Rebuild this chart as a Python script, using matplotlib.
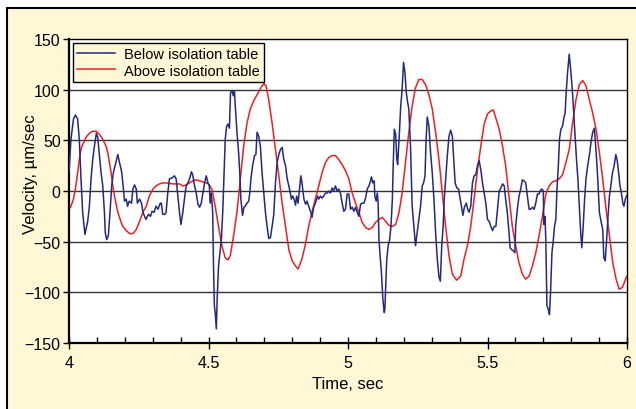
import matplotlib
matplotlib.use("Agg")
import matplotlib.pyplot as plt
from matplotlib.patches import Rectangle
from matplotlib.ticker import MultipleLocator

plt.rcParams['font.family'] = ['Liberation Sans', 'DejaVu Sans']

# time (sec), velocity (um/sec)
below_t = [4.000, 4.007, 4.016, 4.023, 4.031, 4.037, 4.043, 4.049, 4.057, 4.067,
           4.073, 4.079, 4.085, 4.091, 4.098, 4.103, 4.109, 4.115, 4.121, 4.127,
           4.130, 4.135, 4.141, 4.147, 4.153, 4.159, 4.166, 4.175, 4.181, 4.188,
           4.193, 4.199, 4.205, 4.210, 4.216, 4.224, 4.229, 4.235, 4.241, 4.245,
           4.253, 4.260, 4.265, 4.271, 4.276, 4.285, 4.292, 4.298, 4.305, 4.312,
           4.319, 4.327, 4.331, 4.336, 4.344, 4.348, 4.354, 4.360, 4.370, 4.378,
           4.384, 4.390, 4.396, 4.401, 4.408, 4.415, 4.420, 4.426, 4.432, 4.439,
           4.444, 4.450, 4.456, 4.462, 4.468, 4.474, 4.480, 4.486, 4.492, 4.498,
           4.503, 4.506, 4.510, 4.515, 4.518, 4.521, 4.524, 4.528, 4.531, 4.536,
           4.541, 4.546, 4.551, 4.555, 4.560, 4.565, 4.570, 4.575, 4.579, 4.584,
           4.589, 4.593, 4.596, 4.602, 4.608, 4.612, 4.616, 4.622, 4.627, 4.632,
           4.638, 4.644, 4.648, 4.652, 4.658, 4.665, 4.670, 4.674, 4.680, 4.686,
           4.692, 4.698, 4.704, 4.710, 4.716, 4.722, 4.728, 4.734, 4.740, 4.746,
           4.752, 4.758, 4.764, 4.770, 4.776, 4.782, 4.788, 4.794, 4.797, 4.802,
           4.807, 4.812, 4.816, 4.821, 4.826, 4.831, 4.835, 4.842, 4.848, 4.853,
           4.859, 4.867, 4.871, 4.877, 4.883, 4.891, 4.895, 4.901, 4.907, 4.913,
           4.919, 4.926, 4.931, 4.937, 4.943, 4.949, 4.955, 4.961, 4.967, 4.973,
           4.979, 4.985, 4.991, 4.997, 5.003, 5.009, 5.015, 5.021, 5.027, 5.033,
           5.039, 5.045, 5.051, 5.057, 5.063, 5.069, 5.075, 5.081, 5.084, 5.089,
           5.094, 5.096, 5.101, 5.105, 5.108, 5.111, 5.115, 5.120, 5.125, 5.130,
           5.132, 5.136, 5.139, 5.144, 5.149, 5.154, 5.159, 5.162, 5.166, 5.171,
           5.175, 5.178, 5.183, 5.189, 5.194, 5.199, 5.204, 5.209, 5.214, 5.218,
           5.224, 5.230, 5.236, 5.242, 5.248, 5.254, 5.260, 5.266, 5.271, 5.276,
           5.280, 5.284, 5.290, 5.296, 5.302, 5.308, 5.314, 5.320, 5.326, 5.331,
           5.336, 5.341, 5.345, 5.350, 5.356, 5.362, 5.368, 5.374, 5.379, 5.384,
           5.390, 5.396, 5.402, 5.408, 5.412, 5.417, 5.424, 5.429, 5.434, 5.440,
           5.446, 5.452, 5.458, 5.464, 5.470, 5.476, 5.482, 5.488, 5.494, 5.500,
           5.506, 5.512, 5.518, 5.524, 5.530, 5.536, 5.542, 5.548, 5.554, 5.560,
           5.565, 5.571, 5.577, 5.581, 5.587, 5.593, 5.598, 5.601, 5.607, 5.613,
           5.619, 5.625, 5.631, 5.637, 5.643, 5.649, 5.655, 5.661, 5.667, 5.673,
           5.679, 5.685, 5.688, 5.695, 5.700, 5.702, 5.706, 5.709, 5.713, 5.718,
           5.722, 5.726, 5.731, 5.736, 5.740, 5.745, 5.749, 5.754, 5.758, 5.763,
           5.769, 5.775, 5.778, 5.782, 5.787, 5.793, 5.799, 5.804, 5.809, 5.815,
           5.819, 5.824, 5.829, 5.834, 5.838, 5.843, 5.848, 5.853, 5.859, 5.865,
           5.871, 5.877, 5.883, 5.886, 5.891, 5.896, 5.901, 5.907, 5.913, 5.917,
           5.922, 5.927, 5.932, 5.937, 5.942, 5.948, 5.954, 5.960, 5.965, 5.970,
           5.975, 5.980, 5.985, 5.989, 5.994, 6.000]
below_v = [18, 51, 71, 75, 71, 51, 12, -21, -43, -30,
           -15, 12, 31, 44, 57, 53, 35, 18, 5, -21,
           -41, -48, -44, -21, 5, 18, 26, 36, 28, 20,
           8, -10, -8, -15, -10, -12, 2, 6, 2, -12,
           -8, -12, -21, -25, -28, -23, -25, -20, -21, -15,
           -18, -12, -12, -23, -23, -21, -2, 12, 13, 15,
           12, -5, -21, -33, -21, -5, 5, 8, 12, 19,
           15, 5, -2, -13, -16, -12, -2, 8, 15, 8,
           5, -12, -2, -21, -74, -113, -120, -136, -107, -74,
           -61, -48, -21, 12, 51, 64, 66, 62, 97, 99,
           94, 99, 84, 58, 38, 18, -8, -24, -16, -15,
           -12, -10, -2, 12, 25, 35, 36, 58, 54, 44,
           18, -2, -21, -35, -47, -46, -35, -23, 8, 28,
           36, 41, 43, 31, 25, 12, 5, -3, -8, -5,
           -8, -14, -5, -12, 2, 15, 8, -8, -13, -10,
           -15, -21, -26, -16, -12, -5, -8, -5, -7, -5,
           -2, -2, 0, -2, 3, 0, 5, 0, 2, -2,
           -12, -20, -18, -3, -3, -18, -16, -20, -16, -21,
           -25, -13, -12, -12, -7, 2, 5, 10, 14, 8,
           10, -5, -10, -2, -12, -48, -64, -81, -107, -120,
           -117, -87, -67, -54, -48, -35, -8, 25, 61, 56,
           31, 26, 51, 84, 100, 127, 117, 97, 87, 81,
           44, -15, -35, -54, -41, -28, -15, 5, 8, 15,
           51, 73, 64, 38, 18, -8, -41, -67, -85, -89,
           -54, -35, -8, 12, 35, 54, 60, 54, 31, 8,
           3, 2, -8, -18, -24, -16, -12, -18, -21, -15,
           8, 15, 16, 25, 30, 21, 8, -2, -12, -28,
           -30, -35, -39, -35, -35, -18, 0, 3, 7, 5,
           -8, -21, -41, -56, -58, -59, -61, -35, -18, -5,
           2, 11, 10, 8, -5, -18, -18, -16, -18, -12,
           -3, -3, 0, 2, 0, -33, -25, -48, -113, -117,
           -122, -100, -61, -48, -35, -28, 2, 25, 51, 61,
           64, 74, 76, 97, 117, 135, 117, 100, 77, 51,
           31, 12, -15, -41, -56, -35, -8, 12, 25, 35,
           48, 58, 62, 51, 31, 8, -21, -30, -38, -66,
           -69, -48, -25, -5, 5, 18, 25, 36, 30, 18,
           5, -2, -12, -15, -8, -4]

above_t = [4.000, 4.007, 4.016, 4.023, 4.031, 4.037, 4.043, 4.049, 4.055, 4.061,
           4.067, 4.073, 4.085, 4.097, 4.109, 4.121, 4.133, 4.139, 4.145, 4.151,
           4.157, 4.163, 4.169, 4.175, 4.181, 4.187, 4.193, 4.205, 4.217, 4.229,
           4.241, 4.253, 4.265, 4.277, 4.288, 4.301, 4.312, 4.324, 4.336, 4.348,
           4.372, 4.396, 4.408, 4.420, 4.432, 4.444, 4.456, 4.468, 4.480, 4.492,
           4.500, 4.512, 4.524, 4.536, 4.548, 4.560, 4.570, 4.578, 4.590, 4.602,
           4.614, 4.626, 4.638, 4.650, 4.662, 4.674, 4.686, 4.698, 4.706, 4.716,
           4.728, 4.740, 4.752, 4.764, 4.776, 4.788, 4.800, 4.812, 4.821, 4.835,
           4.847, 4.859, 4.871, 4.883, 4.895, 4.907, 4.919, 4.931, 4.943, 4.955,
           4.967, 4.979, 4.991, 5.003, 5.015, 5.027, 5.039, 5.051, 5.063, 5.075,
           5.087, 5.099, 5.111, 5.123, 5.135, 5.147, 5.159, 5.171, 5.183, 5.194,
           5.206, 5.218, 5.230, 5.242, 5.254, 5.266, 5.278, 5.290, 5.302, 5.314,
           5.326, 5.338, 5.350, 5.362, 5.374, 5.389, 5.404, 5.416, 5.428, 5.440,
           5.452, 5.464, 5.476, 5.488, 5.500, 5.512, 5.521, 5.530, 5.542, 5.554,
           5.565, 5.577, 5.589, 5.601, 5.613, 5.625, 5.637, 5.649, 5.661, 5.673,
           5.685, 5.697, 5.709, 5.721, 5.733, 5.745, 5.757, 5.769, 5.781, 5.793,
           5.805, 5.817, 5.829, 5.841, 5.853, 5.865, 5.877, 5.889, 5.901, 5.913,
           5.925, 5.937, 5.949, 5.961, 5.972, 5.984, 5.996, 6.000]
above_v = [-18, -15, -8, 2, 18, 31, 41, 46, 49, 53,
           55, 57, 59, 59, 56, 51, 44, 38, 28, 18,
           5, -5, -13, -21, -26, -31, -35, -39, -42, -42,
           -38, -30, -21, -15, -5, 2, 5, 7, 8, 8,
           7, 7, 5, 6, 8, 10, 11, 10, 9, 8,
           7, 2, -15, -35, -54, -66, -68, -64, -44, -21,
           12, 44, 67, 81, 89, 95, 101, 106, 104, 90,
           67, 41, 15, -12, -35, -58, -69, -74, -77, -67,
           -53, -35, -21, -8, 5, 18, 28, 33, 35, 35,
           31, 26, 20, 12, -2, -12, -21, -31, -36, -38,
           -36, -31, -28, -26, -30, -34, -35, -33, -21, -2,
           28, 58, 84, 102, 110, 110, 105, 95, 81, 58,
           31, -2, -35, -64, -82, -88, -84, -67, -54, -35,
           -8, 21, 44, 66, 76, 79, 80, 72, 61, 44,
           25, -5, -35, -54, -71, -82, -87, -84, -74, -61,
           -44, -25, -3, 5, 9, 10, 12, 16, 28, 41,
           67, 90, 105, 109, 104, 90, 77, 61, 38, 12,
           -18, -44, -71, -87, -97, -95, -86, -84]

fig = plt.figure(figsize=(6.36, 4.10), dpi=100, facecolor='white')
# cream panel with black frame, cropped on the right and bottom
panel = Rectangle((7 / 636, -0.05), 1.0, 1.05 - 9 / 410,
                  transform=fig.transFigure, facecolor='#FFF7D6',
                  edgecolor='black', linewidth=1.5, zorder=-10)
fig.patches.append(panel)

ax = fig.add_axes([69 / 636, 66 / 410, 558 / 636, 304 / 410])
ax.set_facecolor('white')
for y in [-100, -50, 0, 50, 100]:
    ax.axhline(y, color='#333333', linewidth=1.0, zorder=1)

ax.plot(below_t, below_v, color='#232A7E', linewidth=1.1, label='Below isolation table', zorder=3)
ax.plot(above_t, above_v, color='#F01E22', linewidth=1.1, label='Above isolation table', zorder=2)

ax.set_xlim(4, 6)
ax.set_ylim(-150, 150)
ax.xaxis.set_minor_locator(MultipleLocator(0.1))
ax.yaxis.set_major_locator(MultipleLocator(50))
ax.set_xticks([4, 4.5, 5, 5.5, 6])
ax.set_xticklabels(['4', '4.5', '5', '5.5', '6'])
ax.tick_params(axis='x', which='major', direction='inout', length=8, width=1, labelsize=11.5, pad=5)
ax.tick_params(axis='x', which='minor', direction='in', length=4, width=1)
ax.tick_params(axis='y', which='major', direction='out', length=4, width=1, labelsize=11.5, pad=2)
for side in ['left', 'bottom']:
    ax.spines[side].set_linewidth(1.6)
for side in ['right', 'top']:
    ax.spines[side].set_linewidth(1.0)

ax.set_xlabel('Time, sec', fontsize=12)
ax.xaxis.set_label_coords(0.5, -0.107)
ax.set_ylabel('Velocity, µm/sec', fontsize=12)
ax.yaxis.set_label_coords(-0.056, 0.56)

leg = ax.legend(loc='upper left', bbox_to_anchor=(0.007, 0.987), fontsize=10.5,
                fancybox=False, framealpha=1, facecolor='#FFF7D6', edgecolor='black',
                handlelength=2.6, handletextpad=0.6, borderpad=0.3, labelspacing=0.15,
                borderaxespad=0)
leg.get_frame().set_linewidth(1.0)

fig.savefig('out.png', dpi=100, facecolor=fig.get_facecolor())
